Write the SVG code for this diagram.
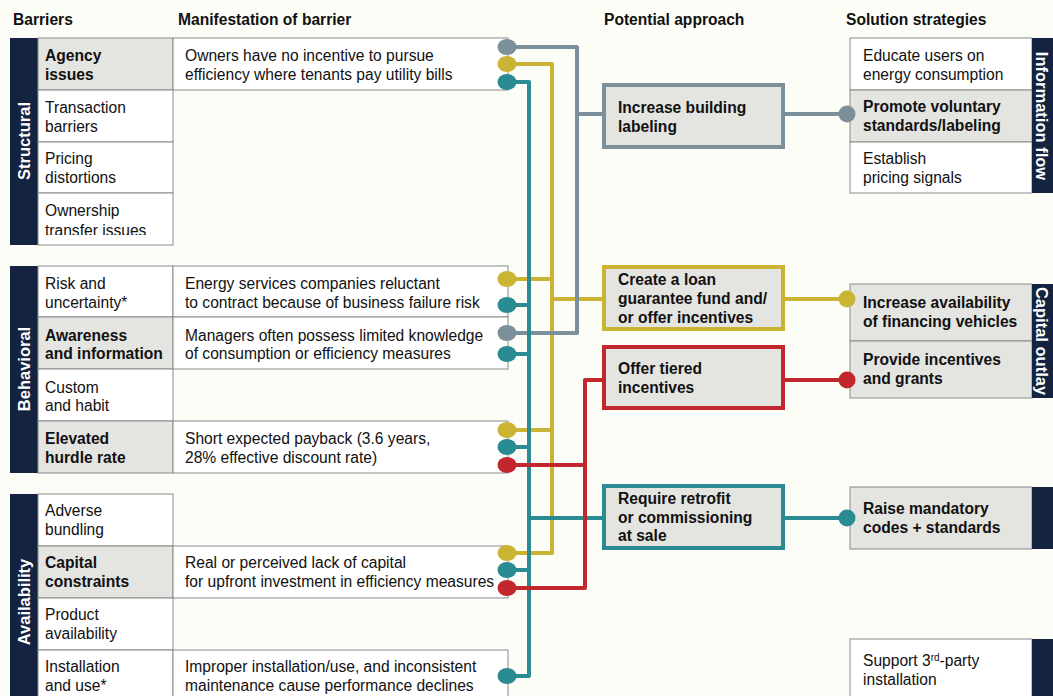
<svg xmlns="http://www.w3.org/2000/svg" width="1053" height="696" viewBox="0 0 1053 696">
<style>
text{font-family:"Liberation Sans",Arial,sans-serif;font-size:15.6px;fill:#111}
.h{font-weight:bold;font-size:15.6px}
.b{font-weight:bold}
.v{font-weight:bold;fill:#fff;font-size:16.5px}
.cell{fill:#fff;stroke:#8a8a8a;stroke-width:1}
.cg{fill:#e4e4e0;stroke:#8a8a8a;stroke-width:1}
.navy{fill:#14233f}
.ap{fill:#e4e4e0;stroke-width:4}
.ln{fill:none;stroke-width:4;stroke-linejoin:round}
.gy{stroke:#7b909b}.yl{stroke:#cbb434}.tl{stroke:#2a8c92}.rd{stroke:#c1272d}
.fgy{fill:#7b909b}.fyl{fill:#cbb434}.ftl{fill:#2a8c92}.frd{fill:#c1272d}
</style>
<defs>
<clipPath id="clipOwn"><rect x="38" y="193" width="135" height="42"/></clipPath>
</defs>
<rect width="1053" height="696" fill="#fdfdf8"/>
<g id="headers">
<text class="h" x="13" y="25">Barriers</text>
<text class="h" x="178" y="25">Manifestation of barrier</text>
<text class="h" x="604" y="25">Potential approach</text>
<text class="h" x="846" y="25">Solution strategies</text>
</g>
<g id="structural">
<rect class="navy" x="10" y="38" width="28" height="207"/>
<text class="v" transform="translate(30,141) rotate(-90)" text-anchor="middle">Structural</text>
<rect class="cg" x="38" y="38" width="135" height="52"/>
<text class="b" x="45" y="61">Agency</text><text class="b" x="45" y="80">issues</text>
<rect class="cell" x="173" y="38" width="335" height="52"/>
<text x="185" y="61">Owners have no incentive to pursue</text>
<text x="185" y="80">efficiency where tenants pay utility bills</text>
<rect class="cell" x="38" y="90" width="135" height="52"/>
<text x="45" y="113">Transaction</text><text x="45" y="132">barriers</text>
<rect class="cell" x="38" y="142" width="135" height="51"/>
<text x="45" y="164">Pricing</text><text x="45" y="183">distortions</text>
<rect class="cell" x="38" y="193" width="135" height="52"/>
<text x="45" y="216">Ownership</text><text x="45" y="236" clip-path="url(#clipOwn)">transfer issues</text>
</g>
<g id="behavioral">
<rect class="navy" x="10" y="266" width="28" height="207"/>
<text class="v" transform="translate(30,369) rotate(-90)" text-anchor="middle">Behavioral</text>
<rect class="cell" x="38" y="266" width="135" height="51"/>
<text x="45" y="289">Risk and</text><text x="45" y="308">uncertainty*</text>
<rect class="cell" x="173" y="266" width="335" height="51"/>
<text x="185" y="289">Energy services companies reluctant</text>
<text x="185" y="308">to contract because of business failure risk</text>
<rect class="cg" x="38" y="317" width="135" height="52"/>
<text class="b" x="45" y="341">Awareness</text><text class="b" x="45" y="359">and information</text>
<rect class="cell" x="173" y="317" width="335" height="52"/>
<text x="185" y="341">Managers often possess limited knowledge</text>
<text x="185" y="359">of consumption or efficiency measures</text>
<rect class="cell" x="38" y="369" width="135" height="52"/>
<text x="45" y="393">Custom</text><text x="45" y="411">and habit</text>
<rect class="cg" x="38" y="421" width="135" height="52"/>
<text class="b" x="45" y="444">Elevated</text><text class="b" x="45" y="463">hurdle rate</text>
<rect class="cell" x="173" y="421" width="335" height="52"/>
<text x="185" y="444">Short expected payback (3.6 years,</text>
<text x="185" y="463">28% effective discount rate)</text>
</g>
<g id="availability">
<rect class="navy" x="10" y="494" width="28" height="210"/>
<text class="v" transform="translate(30,602) rotate(-90)" text-anchor="middle">Availability</text>
<rect class="cell" x="38" y="494" width="135" height="52"/>
<text x="45" y="516">Adverse</text><text x="45" y="535">bundling</text>
<rect class="cg" x="38" y="546" width="135" height="52"/>
<text class="b" x="45" y="568">Capital</text><text class="b" x="45" y="587">constraints</text>
<rect class="cell" x="173" y="546" width="335" height="52"/>
<text x="185" y="568">Real or perceived lack of capital</text>
<text x="185" y="587">for upfront investment in efficiency measures</text>
<rect class="cell" x="38" y="598" width="135" height="52"/>
<text x="45" y="620">Product</text><text x="45" y="639">availability</text>
<rect class="cell" x="38" y="650" width="135" height="60"/>
<text x="45" y="672">Installation</text><text x="45" y="691">and use*</text>
<rect class="cell" x="173" y="650" width="335" height="60"/>
<text x="185" y="672">Improper installation/use, and inconsistent</text>
<text x="185" y="691">maintenance cause performance declines</text>
</g>
<g id="connectors">
<path class="ln yl" d="M507,64 H552 V553 H507 M507,279 H552 M507,430 H552 M552,299 H602 M785,299 H847"/>
<path class="ln gy" d="M507,47 H577 V333 H507 M577,114 H602 M785,114 H847"/>
<path class="ln tl" d="M507,82 H529 V676 H507 M507,305 H529 M507,354 H529 M507,447 H529 M507,570 H529 M529,518 H602 M785,518 H847"/>
<path class="ln rd" d="M507,588 H585 V380 H602 M507,465 H585 M785,380 H847"/>
</g>
<g id="dots-left">
<ellipse class="fgy" cx="507" cy="47" rx="9.5" ry="8"/>
<ellipse class="fyl" cx="507" cy="64" rx="9.5" ry="8"/>
<ellipse class="ftl" cx="507" cy="82" rx="9.5" ry="8"/>
<ellipse class="fyl" cx="507" cy="279" rx="9.5" ry="8"/>
<ellipse class="ftl" cx="507" cy="305" rx="9.5" ry="8"/>
<ellipse class="fgy" cx="507" cy="333" rx="9.5" ry="8"/>
<ellipse class="ftl" cx="507" cy="354" rx="9.5" ry="8"/>
<ellipse class="fyl" cx="507" cy="430" rx="9.5" ry="8"/>
<ellipse class="ftl" cx="507" cy="447" rx="9.5" ry="8"/>
<ellipse class="frd" cx="507" cy="465" rx="9.5" ry="8"/>
<ellipse class="fyl" cx="507" cy="553" rx="9.5" ry="8"/>
<ellipse class="ftl" cx="507" cy="570" rx="9.5" ry="8"/>
<ellipse class="frd" cx="507" cy="588" rx="9.5" ry="8"/>
<ellipse class="ftl" cx="507" cy="676" rx="9.5" ry="8"/>
</g>
<g id="approach-labeling">
<rect class="ap gy" x="604" y="85" width="179" height="62"/>
<text class="b" x="618" y="113">Increase building</text><text class="b" x="618" y="132">labeling</text>
</g>
<g id="approach-loan">
<rect class="ap yl" x="604" y="267" width="179" height="62"/>
<text class="b" x="618" y="285">Create a loan</text><text class="b" x="618" y="304">guarantee fund and/</text><text class="b" x="618" y="323">or offer incentives</text>
</g>
<g id="approach-tiered">
<rect class="ap rd" x="604" y="347" width="179" height="61"/>
<text class="b" x="618" y="374">Offer tiered</text><text class="b" x="618" y="393">incentives</text>
</g>
<g id="approach-retrofit">
<rect class="ap tl" x="604" y="486" width="179" height="62"/>
<text class="b" x="618" y="504">Require retrofit</text><text class="b" x="618" y="523">or commissioning</text><text class="b" x="618" y="541">at sale</text>
</g>
<g id="info-flow">
<rect class="cell" x="850" y="38" width="182" height="52"/>
<text x="863" y="61">Educate users on</text><text x="863" y="80">energy consumption</text>
<rect class="cg" x="850" y="90" width="182" height="52"/>
<text class="b" x="863" y="112">Promote voluntary</text><text class="b" x="863" y="131">standards/labeling</text>
<rect class="cell" x="850" y="142" width="182" height="51"/>
<text x="863" y="164">Establish</text><text x="863" y="183">pricing signals</text>
<rect class="navy" x="1032" y="38" width="21" height="155"/>
<text class="v" transform="translate(1036,116) rotate(90)" text-anchor="middle">Information flow</text>
</g>
<g id="capital-outlay">
<rect class="cg" x="850" y="284" width="182" height="57"/>
<text class="b" x="863" y="308">Increase availability</text><text class="b" x="863" y="327">of financing vehicles</text>
<rect class="cg" x="850" y="341" width="182" height="57"/>
<text class="b" x="863" y="365">Provide incentives</text><text class="b" x="863" y="384">and grants</text>
<rect class="navy" x="1032" y="284" width="21" height="114"/>
<text class="v" transform="translate(1036,341) rotate(90)" text-anchor="middle">Capital outlay</text>
</g>
<g id="mandatory">
<rect class="cg" x="850" y="487" width="182" height="62"/>
<text class="b" x="863" y="514">Raise mandatory</text><text class="b" x="863" y="533">codes + standards</text>
<rect class="navy" x="1032" y="487" width="21" height="62"/>
</g>
<g id="third-party">
<rect class="cell" x="850" y="639" width="182" height="70"/>
<text x="863" y="666">Support 3<tspan font-size="10" dy="-5">rd</tspan><tspan dy="5">-party</tspan></text><text x="863" y="685">installation</text>
<rect class="navy" x="1032" y="639" width="21" height="60"/>
</g>
<g id="dots-right">
<circle class="fgy" cx="847" cy="114" r="8.5"/>
<circle class="fyl" cx="847" cy="299" r="8.5"/>
<circle class="frd" cx="847" cy="380" r="8.5"/>
<circle class="ftl" cx="847" cy="518" r="8.5"/>
</g>
</svg>
